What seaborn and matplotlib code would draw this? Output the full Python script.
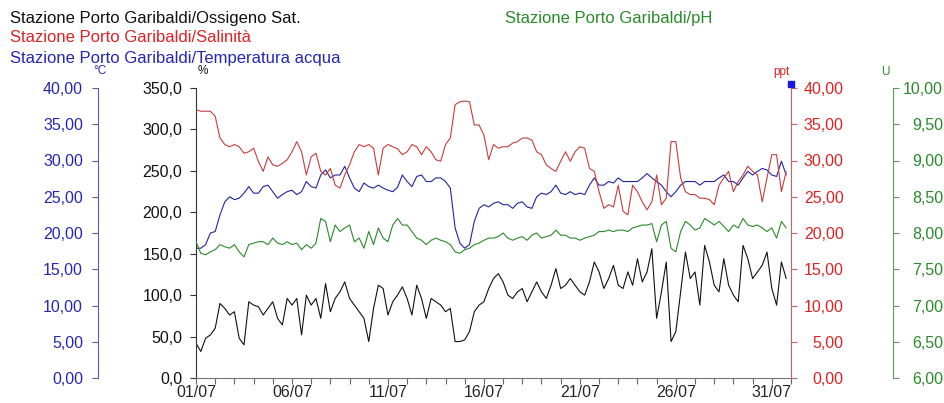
import matplotlib
matplotlib.use("Agg")
import matplotlib.pyplot as plt
import matplotlib.dates as mdates
from matplotlib.ticker import FixedLocator, FuncFormatter
import pandas as pd
import seaborn as sns

# values, one every 6 hours from 01/07 00:00
oxygen = [42, 32, 48, 52, 60, 90, 84, 76, 80, 48, 40, 92, 88, 86, 76, 84, 92, 72, 64, 96,
          88, 96, 52, 100, 88, 96, 72, 114, 80, 96, 104, 116, 96, 88, 80, 72, 44, 84, 112, 108,
          76, 92, 100, 110, 96, 76, 112, 96, 72, 96, 92, 88, 80, 84, 44, 44, 46, 56, 80, 88,
          92, 108, 120, 126, 116, 100, 96, 104, 108, 92, 104, 116, 104, 96, 112, 132, 108, 112, 120, 112,
          104, 100, 116, 140, 128, 108, 120, 136, 112, 108, 128, 112, 144, 116, 128, 156, 72, 104, 140, 44,
          56, 104, 152, 120, 128, 88, 160, 140, 112, 104, 144, 112, 100, 92, 160, 144, 120, 128, 136, 152,
          108, 88, 140, 120]

salinity = [37.0, 36.8, 36.8, 36.8, 36.1, 33.1, 32.2, 31.9, 32.2, 31.9, 31.0, 31.2, 31.7, 29.9, 28.5, 30.5,
            29.4, 29.2, 29.6, 30.1, 31.2, 32.6, 31.2, 28.0, 30.5, 31.0, 28.5, 28.0, 28.9, 26.6, 26.2, 28.0,
            29.4, 31.2, 32.2, 31.9, 32.2, 31.7, 28.0, 31.7, 32.2, 31.9, 31.6, 30.8, 31.2, 32.2, 31.9, 30.8,
            31.9, 31.2, 30.1, 29.9, 32.2, 33.1, 37.7, 38.1, 38.2, 38.1, 34.9, 34.9, 33.5, 30.1, 32.2, 31.7,
            31.9, 31.9, 32.4, 32.6, 33.1, 33.1, 32.8, 31.2, 30.8, 29.4, 28.9, 28.5, 29.9, 31.2, 29.9, 31.2,
            31.9, 31.7, 28.9, 28.5, 25.7, 23.4, 23.9, 23.6, 26.6, 23.0, 22.5, 26.6, 25.7, 24.3, 23.2, 24.3,
            28.0, 23.9, 24.8, 32.6, 32.6, 27.6, 25.7, 25.3, 25.3, 24.8, 24.8, 24.6, 23.9, 26.6, 27.6, 28.5,
            25.7, 27.1, 28.0, 29.2, 28.5, 28.0, 24.3, 27.6, 30.8, 30.8, 25.7, 28.5]

water_temp = [17.9, 17.9, 18.4, 20.0, 20.2, 22.5, 24.3, 25.0, 24.6, 24.8, 25.5, 26.4, 25.5, 25.5, 26.4, 26.6,
              25.7, 24.8, 25.3, 25.7, 25.9, 25.3, 25.7, 27.1, 26.4, 26.2, 28.0, 28.7, 27.6, 28.0, 28.0, 29.2,
              27.6, 26.2, 25.7, 26.9, 26.4, 26.2, 26.6, 26.2, 25.9, 25.7, 26.3, 28.0, 27.1, 26.4, 27.8, 28.0,
              27.1, 27.1, 27.6, 27.6, 27.1, 26.2, 20.7, 18.6, 17.9, 18.4, 21.6, 23.4, 23.9, 23.6, 24.1, 24.3,
              23.9, 23.9, 23.4, 24.1, 24.3, 23.6, 23.4, 25.0, 25.5, 25.3, 25.7, 26.6, 25.5, 25.3, 25.7, 25.3,
              25.5, 25.3, 26.6, 27.6, 26.6, 26.6, 27.1, 26.9, 27.6, 27.1, 27.1, 27.1, 27.1, 27.6, 28.2, 27.6,
              27.1, 26.6, 25.7, 25.0, 25.7, 26.6, 27.1, 27.1, 27.1, 26.6, 27.1, 27.1, 27.1, 27.6, 28.0, 27.1,
              27.1, 26.6, 27.6, 28.5, 28.0, 28.5, 28.9, 28.7, 28.0, 27.8, 29.9, 28.0]

ph = [7.88, 7.72, 7.70, 7.74, 7.77, 7.84, 7.81, 7.79, 7.84, 7.74, 7.67, 7.84, 7.86, 7.88, 7.88, 7.84,
      7.93, 7.86, 7.84, 7.88, 7.84, 7.86, 7.77, 7.84, 7.79, 7.86, 8.20, 8.16, 7.88, 8.11, 8.02, 8.07,
      8.11, 7.88, 7.93, 7.79, 8.02, 7.84, 8.07, 7.93, 7.88, 8.11, 8.20, 8.11, 8.11, 8.02, 7.93, 7.90,
      7.84, 7.90, 7.93, 7.90, 7.88, 7.84, 7.74, 7.72, 7.77, 7.79, 7.84, 7.86, 7.90, 7.93, 7.93, 7.95,
      8.00, 7.93, 7.90, 7.93, 7.95, 7.90, 7.97, 8.00, 7.93, 7.95, 7.97, 8.04, 7.97, 7.97, 7.93, 7.93,
      7.90, 7.93, 7.95, 7.97, 8.02, 8.02, 8.04, 8.02, 8.04, 8.04, 8.02, 8.07, 8.09, 8.11, 8.11, 8.13,
      7.88, 8.11, 8.16, 7.79, 7.74, 8.02, 8.16, 8.11, 8.04, 8.07, 8.20, 8.16, 8.11, 8.16, 8.09, 8.02,
      8.11, 8.07, 8.20, 8.11, 8.09, 8.11, 8.07, 8.02, 8.07, 7.93, 8.16, 8.07]

day_labels = [1, 6, 11, 16, 21, 26, 31]

times = pd.date_range("2024-07-01", periods=len(oxygen), freq="6h")
df = pd.DataFrame({"time": times, "oxygen": oxygen, "salinity": salinity,
                   "temp": water_temp, "ph": ph})

sns.set_style("white")
plt.rcParams["font.family"] = ["Liberation Sans", "DejaVu Sans"]

BLACK = "#111111"
RED = "#c83c3c"
RED_TXT = "#dd2222"
BLUE = "#2424a0"
BLUE_TXT = "#2626b4"
GREEN = "#2a8a2a"

fig = plt.figure(figsize=(9.45, 4.03), dpi=100)
ax = fig.add_axes([196 / 945, 25 / 403, 595 / 945, 290 / 403])
ax_t = ax.twinx()
ax_s = ax.twinx()
ax_p = ax.twinx()

sns.lineplot(data=df, x="time", y="oxygen", ax=ax, color=BLACK, linewidth=0.8)
sns.lineplot(data=df, x="time", y="salinity", ax=ax_s, color=RED, linewidth=0.8)
sns.lineplot(data=df, x="time", y="temp", ax=ax_t, color=BLUE, linewidth=0.8)
sns.lineplot(data=df, x="time", y="ph", ax=ax_p, color=GREEN, linewidth=0.8)

for a in (ax, ax_t, ax_s, ax_p):
    a.set_xlabel("")
    a.set_ylabel("")
    for s in a.spines.values():
        s.set_visible(False)

ax.set_xlim(times[0], pd.Timestamp("2024-08-01"))
label_days = [mdates.date2num(pd.Timestamp(2024, 7, d)) for d in day_labels]
ax.xaxis.set_major_locator(FixedLocator(label_days))
ax.xaxis.set_minor_locator(mdates.DayLocator())
ax.xaxis.set_major_formatter(mdates.DateFormatter("%d/%m"))
ax.tick_params(axis="x", which="both", direction="out", length=4, width=0.8,
               color="#666666", labelsize=11.5, pad=1, bottom=True)
ax.spines["bottom"].set_visible(True)
ax.spines["bottom"].set_color("#777777")


def comma(fmt):
    return FuncFormatter(lambda v, p: (fmt % v).replace(".", ","))


# black axis (%)
ax.set_ylim(0, 350)
ax.yaxis.set_major_locator(FixedLocator(range(0, 351, 50)))
ax.yaxis.set_major_formatter(comma("%.1f"))
ax.spines["left"].set_visible(True)
ax.spines["left"].set_color("#333333")
ax.tick_params(axis="y", direction="out", length=4, width=0.8, color="#333333",
               labelsize=11.5, labelcolor=BLACK, pad=5.8, left=True)

# blue axis (°C), further left
ax_t.set_ylim(0, 40)
ax_t.yaxis.set_ticks_position("left")
ax_t.yaxis.set_label_position("left")
ax_t.spines["left"].set_visible(True)
ax_t.spines["left"].set_position(("axes", -0.1652))
ax_t.spines["left"].set_color("#5a5aa8")
ax_t.yaxis.set_major_locator(FixedLocator(range(0, 41, 5)))
ax_t.yaxis.set_major_formatter(comma("%.2f"))
ax_t.tick_params(axis="y", direction="out", length=4, width=0.8, color="#5a5aa8",
                 labelsize=11.5, labelcolor=BLUE_TXT, pad=6.5)

# red axis (ppt)
ax_s.set_ylim(0, 40)
ax_s.spines["right"].set_visible(True)
ax_s.spines["right"].set_color("#c86464")
ax_s.yaxis.set_major_locator(FixedLocator(range(0, 41, 5)))
ax_s.yaxis.set_major_formatter(comma("%.2f"))
ax_s.tick_params(axis="y", direction="out", length=4, width=0.8, color="#c86464",
                 labelsize=11.5, labelcolor=RED_TXT, pad=34)
plt.setp(ax_s.get_yticklabels(), ha="right")

# green axis (pH)
ax_p.set_ylim(6, 10)
ax_p.spines["right"].set_visible(True)
ax_p.spines["right"].set_position(("axes", 1.1714))
ax_p.spines["right"].set_color("#5a9a5a")
ax_p.yaxis.set_major_locator(FixedLocator([6 + 0.5 * k for k in range(9)]))
ax_p.yaxis.set_major_formatter(comma("%.2f"))
ax_p.tick_params(axis="y", direction="out", length=4, width=0.8, color="#5a9a5a",
                 labelsize=11.5, labelcolor=GREEN, pad=32)
plt.setp(ax_p.get_yticklabels(), ha="right")

# small blue square on top of the salinity axis
ax_s.plot([1.0], [1.014], marker="s", ms=5, color="#1818e0", transform=ax_s.transAxes,
          clip_on=False)

# unit labels
fig.text(100 / 945, 1 - 71 / 403, "°C", color=BLUE_TXT, fontsize=8.5, ha="center", va="center")
fig.text(203 / 945, 1 - 71 / 403, "%", color=BLACK, fontsize=8.5, ha="center", va="center")
fig.text(781 / 945, 1 - 72 / 403, "ppt", color=RED_TXT, fontsize=8.5, ha="center", va="center")
fig.text(885 / 945, 1 - 72 / 403, "U", color=GREEN, fontsize=8.5, ha="center", va="center")

# series names
fig.text(10 / 945, 1 - 18 / 403, "Stazione Porto Garibaldi/Ossigeno Sat.", color=BLACK,
         fontsize=12, va="center")
fig.text(10 / 945, 1 - 38 / 403, "Stazione Porto Garibaldi/Salinità", color=RED_TXT,
         fontsize=12, va="center")
fig.text(10 / 945, 1 - 58 / 403, "Stazione Porto Garibaldi/Temperatura acqua", color=BLUE_TXT,
         fontsize=12, va="center")
fig.text(505 / 945, 1 - 18 / 403, "Stazione Porto Garibaldi/pH", color=GREEN,
         fontsize=12, va="center")

fig.savefig("out.png", dpi=100)
